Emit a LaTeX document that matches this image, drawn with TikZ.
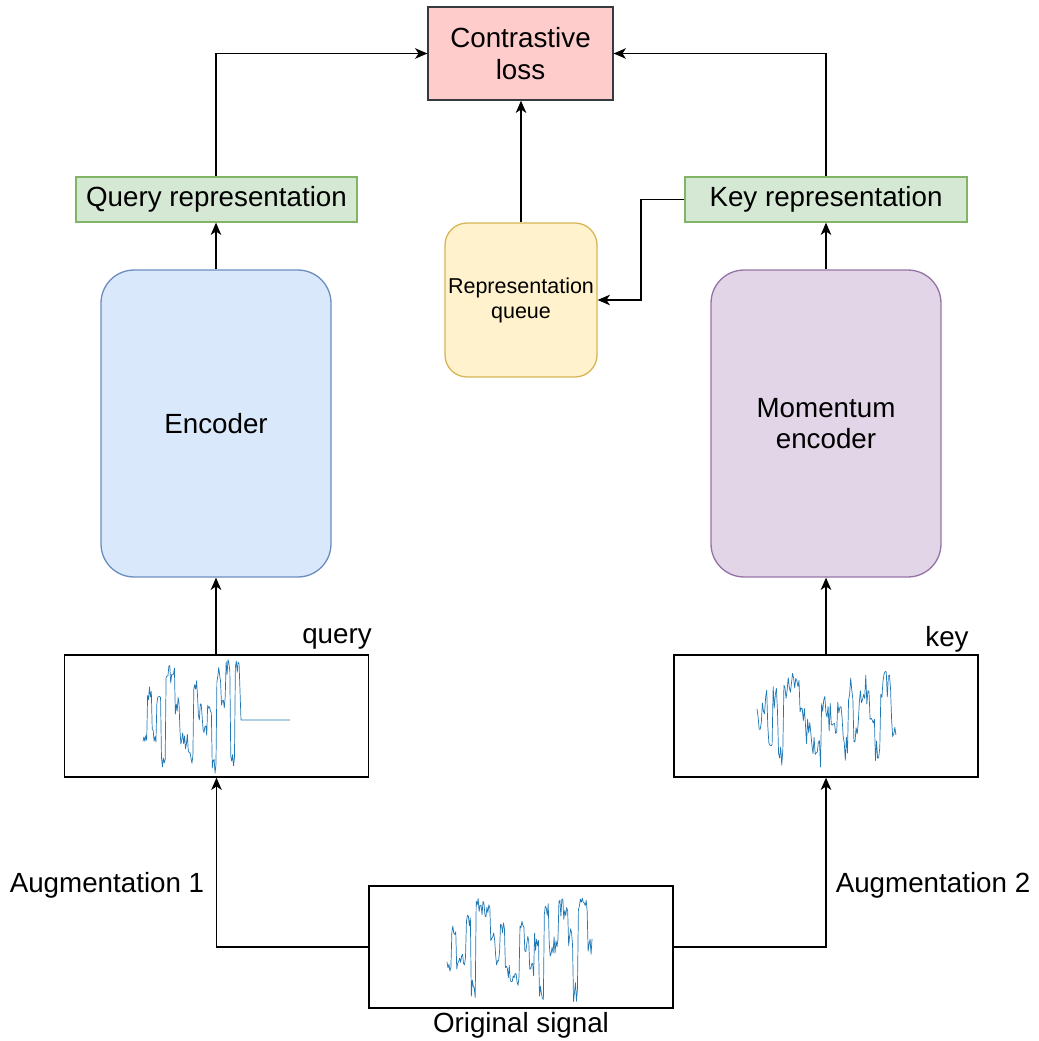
\documentclass[tikz,border=0pt]{standalone}
\usepackage{fontspec}
\setmainfont{Liberation Sans}
\usetikzlibrary{arrows.meta,positioning}

\definecolor{lossfill}{HTML}{FFCCCC}
\definecolor{lossline}{HTML}{36393D}
\definecolor{repfill}{HTML}{D5E8D4}
\definecolor{repline}{HTML}{82B366}
\definecolor{queuefill}{HTML}{FFF2CC}
\definecolor{queueline}{HTML}{D6B656}
\definecolor{encfill}{HTML}{DAE8FC}
\definecolor{encline}{HTML}{6C8EBF}
\definecolor{mencfill}{HTML}{E1D5E7}
\definecolor{mencline}{HTML}{9673A6}
\definecolor{sigblue}{HTML}{1F77B4}

% signal trace: #1 left x, #2 centre y, #3 width, #4 noise, #5 levels
\newcommand{\drawsignal}[5]{%
  \def\sigpts{}%
  \foreach \lv [count=\k] in {#5}{\xdef\nlev{\k}}%
  \pgfmathsetmacro\sigdx{#3/(\nlev*5)}%
  \foreach \lv [count=\k from 0] in {#5}{%
    \foreach \j in {0,...,4}{%
      \pgfmathsetmacro\xx{#1+(\k*5+\j)*\sigdx}%
      \pgfmathsetmacro\yy{#2-53*(\lv+#4*rand)}%
      \xdef\sigpts{\sigpts(\xx,\yy)}%
      \xdef\siglast{(\xx,\yy)}%
    }%
  }%
  \edef\sigcmd{\noexpand\draw[signal] plot coordinates {\sigpts};}%
  \sigcmd
}

\tikzset{
  block/.style={draw, line width=0.75pt, inner sep=0pt, align=center,
    font=\fontsize{15.8}{17.8}\selectfont},
  sigbox/.style={block, draw=black, minimum width=6.08cm, minimum height=2.44cm},
  arr/.style={line width=0.75pt, -{Stealth[length=7pt,width=6pt,inset=2pt]}},
  signal/.style={sigblue, line width=0.4pt, line join=round},
  lbl/.style={inner sep=0pt, font=\fontsize{15.8}{17.8}\selectfont}
}

\begin{document}
\begin{tikzpicture}[x=0.02cm, y=-0.02cm]
  \useasboundingbox (0,0) rectangle (1038,1041);

  % boxes
  \node[block, fill=lossfill, draw=lossline, minimum width=3.7cm, minimum height=1.86cm]
    (loss) at (520.5,53.5) {Contrastive\\loss};
  \node[block, fill=repfill, draw=repline, minimum width=5.62cm, minimum height=0.9cm]
    (qrep) at (216.5,199.5) {Query representation};
  \node[block, fill=repfill, draw=repline, minimum width=5.64cm, minimum height=0.9cm]
    (krep) at (826,199.5) {Key representation};
  \node[block, fill=queuefill, draw=queueline, rounded corners=0.44cm,
    minimum width=3.04cm, minimum height=3.08cm, font=\fontsize{12.25}{14.2}\selectfont]
    (queue) at (521,300) {Representation\\queue};
  \node[block, fill=encfill, draw=encline, rounded corners=0.66cm,
    minimum width=4.6cm, minimum height=6.14cm] (enc) at (216,423.5) {Encoder};
  \node[block, fill=mencfill, draw=mencline, rounded corners=0.66cm,
    minimum width=4.6cm, minimum height=6.14cm] (menc) at (826,423.5) {Momentum\\encoder};
  \node[sigbox] (qsig) at (216.5,716) {};
  \node[sigbox] (ksig) at (826,716) {};
  \node[sigbox] (orig) at (521,947) {};

  % labels
  \node[lbl] (qlbl) at (337,639) {query};
  \node[lbl] (klbl) at (947,639) {key};
  \node[lbl] (aug1) at (107,885) {Augmentation 1};
  \node[lbl] (aug2) at (933,885) {Augmentation 2};
  \node[lbl] (olbl) at (521,1025) {Original signal};

  % signals
  \pgfmathsetseed{11}
  \drawsignal{447}{947}{146}{0.18}{-0.4,0.35,-0.35,-0.3,0.45,-0.8,0.75,0.75,0.7,0.1,-0.2,0.3,-0.45,-0.7,-0.6,0.4,0.05,-0.45,0.1,-0.85,0.7,0.0,0.05,0.75,0.7,0.2,-0.85,0.85,0.8,0.0}
  \pgfmathsetseed{23}
  \drawsignal{143}{716}{97}{0.18}{-0.3,0.4,-0.4,0.4,-0.9,0.85,0.8,0.2,-0.35,-0.5,-0.8,0.5,0.1,-0.35,0.2,-0.9,0.8,0.3,0.9,-0.85,0.95}
  \draw[signal] \siglast -- (241,720) -- (290,720);
  \pgfmathsetseed{5}
  \drawsignal{757}{716}{140}{0.28}{0.0,0.3,-0.4,0.3,-0.8,0.6,0.6,0.6,0.0,-0.3,-0.5,-0.7,0.2,0.0,-0.4,0.2,-0.6,0.5,-0.3,0.5,0.5,-0.2,-0.7,0.6,0.6,-0.2}

  % connectors
  \coordinate (bend) at (641,199.5);
  \draw[arr] (orig.west) -| (qsig.south);
  \draw[arr] (orig.east) -| (ksig.south);
  \draw[arr] (qsig.north -| enc.south) -- (enc.south);
  \draw[arr] (ksig.north -| menc.south) -- (menc.south);
  \draw[arr] (enc.north) -- (qrep.south -| enc.north);
  \draw[arr] (menc.north) -- (krep.south -| menc.north);
  \draw[arr] (qrep.north -| enc.north) |- (loss.west);
  \draw[arr] (krep.north) |- (loss.east);
  \draw[arr] (queue.north) -- (loss.south -| queue.north);
  \draw[arr] (krep.west) -- (bend) |- (queue.east);
\end{tikzpicture}
\end{document}
